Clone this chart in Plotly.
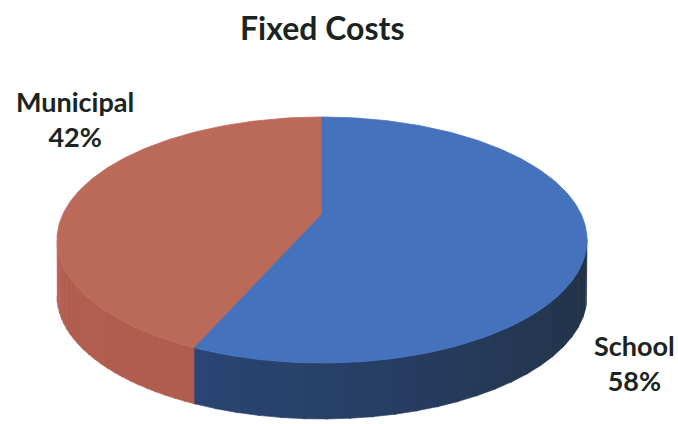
import numpy as np
import plotly.graph_objects as go

# Data
categories = ["Municipal", "School"]
values = [42, 58]

# Slice styling
top_colors = ["#bb6a5a", "#4572bd"]
side_left = [(178, 94, 80), (46, 80, 140)]
side_right = [(170, 88, 74), (33, 48, 66)]

# Drawing geometry (plot coordinates == pixels)
W, H = 678, 424
cx, cy = 322, 240
rx, ry = 265, 123
apex_y = 214
depth = 56

fig = go.Figure()

fractions = np.array(values, dtype=float) / sum(values)
# Municipal sweeps counter-clockwise from 12 o'clock, School fills the rest
starts, ends = [], []
a = 90.0
for f in fractions:
    starts.append(a)
    a += f * 360.0
    ends.append(a)


def rim(phi_deg, drop=0.0):
    p = np.radians(phi_deg)
    return cx + rx * np.cos(p), cy - ry * np.sin(p) + drop


def blend(c1, c2, t):
    return "rgb(%d,%d,%d)" % tuple(int(round(c1[k] + (c2[k] - c1[k]) * t)) for k in range(3))


# Side walls: only the front half (180..360 deg) is visible
for i, (s, e) in enumerate(zip(starts, ends)):
    segs = []
    for off in (0.0, 360.0):
        lo, hi = max(s, 180 + off), min(e, 360 + off)
        if hi > lo:
            segs.append((lo, hi))
    for lo, hi in segs:
        n = 24
        edges = np.linspace(lo, hi, n + 1)
        for j in range(n):
            ph = np.linspace(edges[j], edges[j + 1] + 0.4, 6)
            xt, yt = rim(ph)
            xb, yb = rim(ph[::-1], depth)
            t = ((edges[j] - 180) % 360) / 180.0
            col = blend(side_left[i], side_right[i], t)
            fig.add_trace(go.Scatter(
                x=np.concatenate([xt, xb]), y=np.concatenate([yt, yb]),
                fill="toself", fillcolor=col, mode="lines",
                line=dict(width=0.6, color=col), hoverinfo="skip", showlegend=False))

# Top faces
for i, (s, e) in enumerate(zip(starts, ends)):
    ph = np.linspace(s, e, 200)
    xs, ys = rim(ph)
    xs = np.concatenate([[cx], xs, [cx]])
    ys = np.concatenate([[apex_y], ys, [apex_y]])
    fig.add_trace(go.Scatter(
        x=xs, y=ys, fill="toself", fillcolor=top_colors[i], mode="lines",
        line=dict(width=0.8, color=top_colors[i]), name=categories[i],
        hoverinfo="skip", showlegend=False))

# Labels
label_font = dict(family="Lato, Open Sans, sans-serif", size=27, color="#1a2420")
label_pos = [(75, 119), (634, 363)]
for i, (lx, ly) in enumerate(label_pos):
    fig.add_annotation(
        x=lx, y=ly, xref="x", yref="y", showarrow=False,
        text="<b>%s<br>%d%%</b>" % (categories[i], round(fractions[i] * 100)),
        font=label_font, align="center")

fig.add_annotation(
    x=322, y=27, xref="x", yref="y", showarrow=False,
    text="<b>Fixed Costs</b>",
    font=dict(family="Lato, Open Sans, sans-serif", size=32, color="#1a2420"))

fig.update_xaxes(range=[0, W], visible=False, fixedrange=True)
fig.update_yaxes(range=[H, 0], visible=False, fixedrange=True)
fig.update_layout(
    width=W, height=H, margin=dict(l=0, r=0, t=0, b=0),
    paper_bgcolor="white", plot_bgcolor="white")

fig.write_html("out.html")
